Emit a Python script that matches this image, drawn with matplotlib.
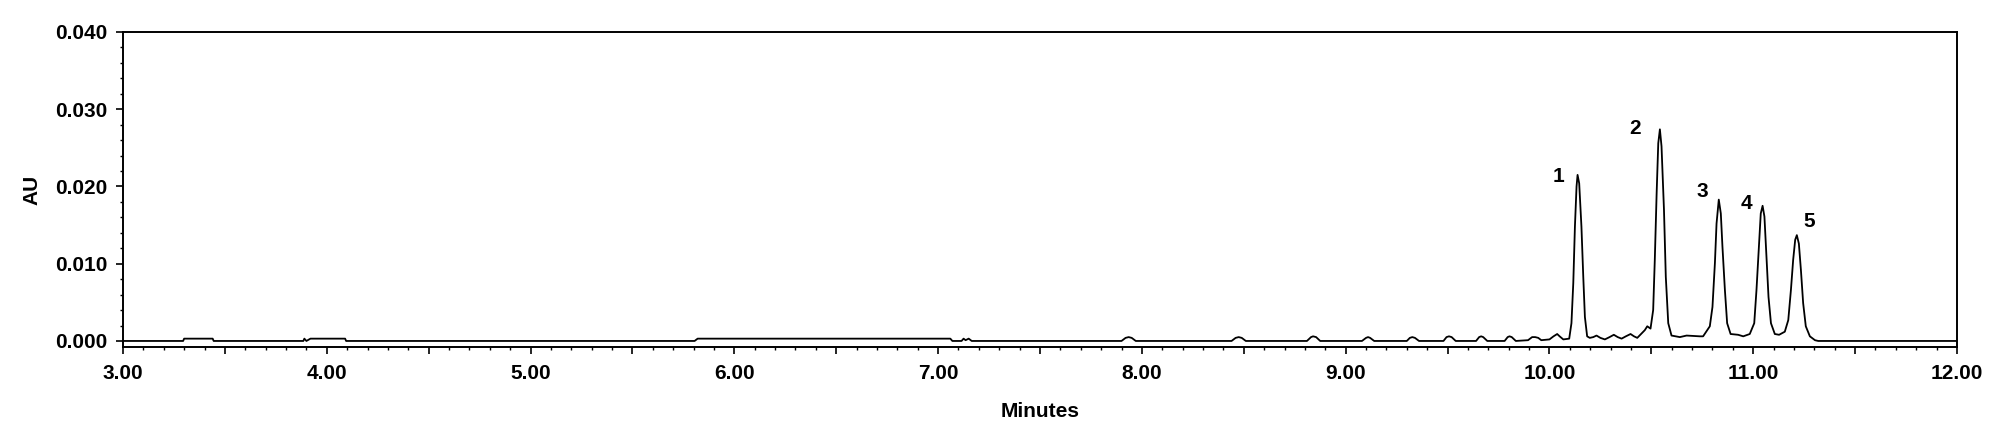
import numpy as np
import matplotlib
matplotlib.use("Agg")
import matplotlib.pyplot as plt
from matplotlib.ticker import MultipleLocator, FuncFormatter

plt.rcParams['font.family'] = ['Liberation Sans', 'DejaVu Sans']
plt.rcParams['font.weight'] = 'bold'

# chromatogram trace (minutes, AU)
minutes = [
    3.00, 3.295, 3.30, 3.44, 3.445,
    3.885, 3.89, 3.90, 3.92, 4.09, 4.095,
    5.805, 5.82, 7.06, 7.07,
    7.115, 7.125, 7.135, 7.15, 7.165,
    7.90, 7.92, 7.935, 7.95, 7.97,
    8.44, 8.46, 8.475, 8.49, 8.51,
    8.81, 8.83, 8.84, 8.855, 8.875,
    9.08, 9.10, 9.11, 9.12, 9.14,
    9.30, 9.315, 9.327, 9.34, 9.36,
    9.48, 9.495, 9.507, 9.52, 9.54,
    9.64, 9.655, 9.665, 9.675, 9.695,
    9.78, 9.795, 9.804, 9.815, 9.835,
    9.895, 9.915, 9.93, 9.945, 9.96,
    10.00, 10.02, 10.038, 10.05, 10.068, 10.097,
    # peak 1
    10.108, 10.117, 10.125, 10.133, 10.138, 10.146, 10.157, 10.166, 10.174,
    10.185, 10.198, 10.215, 10.231, 10.25, 10.272, 10.295, 10.316, 10.335,
    10.354, 10.375, 10.398, 10.415, 10.431, 10.468, 10.480, 10.496,
    # peak 2
    10.509, 10.517, 10.526, 10.534, 10.542, 10.550, 10.562, 10.571, 10.583,
    10.599, 10.640, 10.673, 10.738, 10.754,
    # peak 3
    10.787, 10.800, 10.812, 10.820, 10.831, 10.841, 10.849, 10.861, 10.872,
    10.889, 10.926, 10.951, 10.983,
    # peak 4
    11.005, 11.016, 11.028, 11.037, 11.046, 11.055, 11.065, 11.075, 11.087,
    11.106, 11.127, 11.155,
    # peak 5
    11.172, 11.185, 11.196, 11.206, 11.214, 11.224, 11.234, 11.245, 11.258,
    11.278, 11.303, 11.319, 12.00,
]
absorbance = [
    0.0, 0.0, 0.0003, 0.0003, 0.0,
    0.0, 0.0003, 0.0, 0.0003, 0.0003, 0.0,
    0.0, 0.0003, 0.0003, 0.0,
    0.0, 0.0003, 0.0001, 0.0003, 0.0,
    0.0, 0.0004, 0.0005, 0.0004, 0.0,
    0.0, 0.0004, 0.0005, 0.0004, 0.0,
    0.0, 0.0005, 0.0006, 0.0005, 0.0,
    0.0, 0.0004, 0.0005, 0.0004, 0.0,
    0.0, 0.0004, 0.0005, 0.0004, 0.0,
    0.0, 0.0005, 0.0006, 0.0005, 0.0,
    0.0, 0.0005, 0.0006, 0.0005, 0.0,
    0.0, 0.0005, 0.0006, 0.0005, 0.0,
    0.0001, 0.0005, 0.0005, 0.0004, 0.0001,
    0.0002, 0.0006, 0.0009, 0.0006, 0.0002, 0.0003,
    0.0023, 0.0075, 0.0148, 0.0200, 0.0215, 0.0204, 0.0148, 0.0083, 0.0031,
    0.0006, 0.0004, 0.0005, 0.0007, 0.0004, 0.0002, 0.0005, 0.0008, 0.0005,
    0.0003, 0.0006, 0.0009, 0.0006, 0.0004, 0.0014, 0.0019, 0.0016,
    0.0040, 0.0105, 0.0191, 0.0256, 0.0274, 0.0252, 0.0170, 0.0083, 0.0023,
    0.0007, 0.0005, 0.0007, 0.0006, 0.0006,
    0.0019, 0.0044, 0.0101, 0.0152, 0.0183, 0.0165, 0.0122, 0.0066, 0.0023,
    0.0009, 0.0008, 0.0006, 0.0009,
    0.0023, 0.0066, 0.0122, 0.0165, 0.0175, 0.0161, 0.0109, 0.0057, 0.0023,
    0.0009, 0.0008, 0.0012,
    0.0027, 0.0066, 0.0105, 0.0131, 0.0137, 0.0126, 0.0092, 0.0049, 0.0019,
    0.0006, 0.0001, 0.0, 0.0,
]

peak_names = ['1', '2', '3', '4', '5']
peak_label_x = [10.043, 10.422, 10.749, 10.967, 11.273]
peak_label_y = [0.0213, 0.0275, 0.0193, 0.0178, 0.0155]

fig = plt.figure(figsize=(20, 4.46), dpi=100)
ax = fig.add_axes([0.0615, 0.222, 0.917, 0.7063])

ax.plot(minutes, absorbance, color='black', linewidth=1.3)

for name, tx, ty in zip(peak_names, peak_label_x, peak_label_y):
    ax.text(tx, ty, name, fontsize=15, fontweight='bold', ha='center', va='center')

ax.set_xlim(3.0, 12.0)
ax.set_ylim(-0.00078, 0.040)

ax.xaxis.set_major_locator(MultipleLocator(0.5))
ax.xaxis.set_minor_locator(MultipleLocator(0.1))
ax.xaxis.set_major_formatter(FuncFormatter(
    lambda v, p: '%.2f' % v if abs(v - round(v)) < 1e-6 else ''))
ax.yaxis.set_major_locator(MultipleLocator(0.01))
ax.yaxis.set_minor_locator(MultipleLocator(0.002))
ax.yaxis.set_major_formatter(FuncFormatter(lambda v, p: '%.3f' % v))

ax.tick_params(which='major', length=5, width=1.2, labelsize=15, direction='out')
ax.tick_params(which='minor', length=2.5, width=1.0, direction='out')
ax.tick_params(axis='x', which='major', pad=7)
ax.tick_params(axis='y', which='major', pad=6)

for s in ax.spines.values():
    s.set_linewidth(1.4)

ax.set_xlabel('Minutes', fontsize=15, fontweight='bold', labelpad=14)
ax.set_ylabel('AU', fontsize=15, fontweight='bold', labelpad=10)

fig.savefig('out.png', dpi=100, facecolor='white')
